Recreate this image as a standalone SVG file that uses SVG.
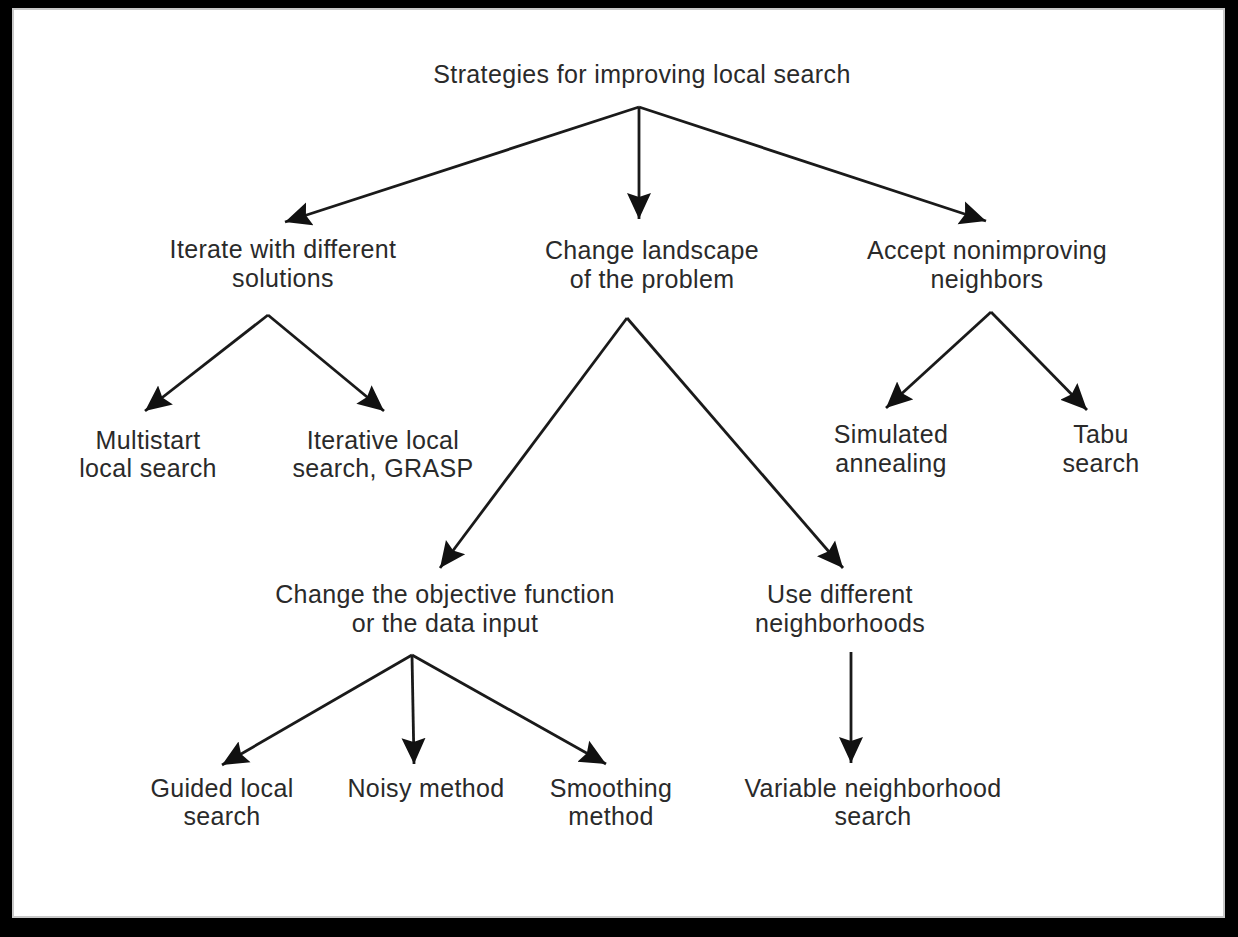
<svg xmlns="http://www.w3.org/2000/svg" width="1238" height="937" viewBox="0 0 1238 937">
  <style>
    .lbl { font-family: "Liberation Sans", Arial, sans-serif; font-size: 25px; letter-spacing: 0.35px; fill: #2a2a2a; text-anchor: middle; }
    .edge { stroke: #1a1a1a; stroke-width: 2.8; fill: none; marker-end: url(#head); }
  </style>
  <defs>
    <marker id="head" markerUnits="userSpaceOnUse" markerWidth="28" markerHeight="26" refX="26" refY="13" orient="auto">
      <path d="M0,1 L26,13 L0,25 L4,13 Z" fill="#111"/>
    </marker>
  </defs>

  <!-- page frame -->
  <rect x="0" y="0" width="1238" height="937" fill="#000"/>
  <rect x="13" y="9" width="1211" height="908" fill="#fff"/>
  <rect x="13" y="9" width="1211" height="908" fill="none" stroke="#c8c8c8" stroke-width="2"/>

  <!-- connectors -->
  <g id="connectors">
    <line class="edge" x1="639" y1="107" x2="285" y2="222"/>
    <line class="edge" x1="639" y1="107" x2="639" y2="219"/>
    <line class="edge" x1="639" y1="107" x2="986" y2="221"/>
    <line class="edge" x1="268" y1="315" x2="145" y2="411"/>
    <line class="edge" x1="268" y1="315" x2="384" y2="411"/>
    <line class="edge" x1="627" y1="318" x2="440" y2="568"/>
    <line class="edge" x1="627" y1="318" x2="843" y2="568"/>
    <line class="edge" x1="991" y1="312" x2="886" y2="408"/>
    <line class="edge" x1="991" y1="312" x2="1087" y2="410"/>
    <line class="edge" x1="412" y1="655" x2="222" y2="765"/>
    <line class="edge" x1="412" y1="655" x2="414" y2="764"/>
    <line class="edge" x1="412" y1="655" x2="606" y2="764"/>
    <line class="edge" x1="851" y1="652" x2="851" y2="763"/>
  </g>

  <!-- nodes -->
  <g id="root"><text class="lbl" x="642" y="83">Strategies for improving local search</text></g>

  <g id="iterate">
    <text class="lbl" x="283" y="258">Iterate with different</text>
    <text class="lbl" x="283" y="287">solutions</text>
  </g>
  <g id="landscape">
    <text class="lbl" x="652" y="259">Change landscape</text>
    <text class="lbl" x="652" y="288">of the problem</text>
  </g>
  <g id="accept">
    <text class="lbl" x="987" y="259">Accept nonimproving</text>
    <text class="lbl" x="987" y="288">neighbors</text>
  </g>

  <g id="multistart">
    <text class="lbl" x="148" y="449">Multistart</text>
    <text class="lbl" x="148" y="477">local search</text>
  </g>
  <g id="iterative-ls">
    <text class="lbl" x="383" y="449">Iterative local</text>
    <text class="lbl" x="383" y="477">search, GRASP</text>
  </g>
  <g id="simulated-annealing">
    <text class="lbl" x="891" y="443">Simulated</text>
    <text class="lbl" x="891" y="472">annealing</text>
  </g>
  <g id="tabu">
    <text class="lbl" x="1101" y="443">Tabu</text>
    <text class="lbl" x="1101" y="472">search</text>
  </g>

  <g id="objective">
    <text class="lbl" x="445" y="603">Change the objective function</text>
    <text class="lbl" x="445" y="632">or the data input</text>
  </g>
  <g id="neighborhoods">
    <text class="lbl" x="840" y="603">Use different</text>
    <text class="lbl" x="840" y="632">neighborhoods</text>
  </g>

  <g id="guided">
    <text class="lbl" x="222" y="797">Guided local</text>
    <text class="lbl" x="222" y="825">search</text>
  </g>
  <g id="noisy"><text class="lbl" x="426" y="797">Noisy method</text></g>
  <g id="smoothing">
    <text class="lbl" x="611" y="797">Smoothing</text>
    <text class="lbl" x="611" y="825">method</text>
  </g>
  <g id="vns">
    <text class="lbl" x="873" y="797">Variable neighborhood</text>
    <text class="lbl" x="873" y="825">search</text>
  </g>
</svg>
